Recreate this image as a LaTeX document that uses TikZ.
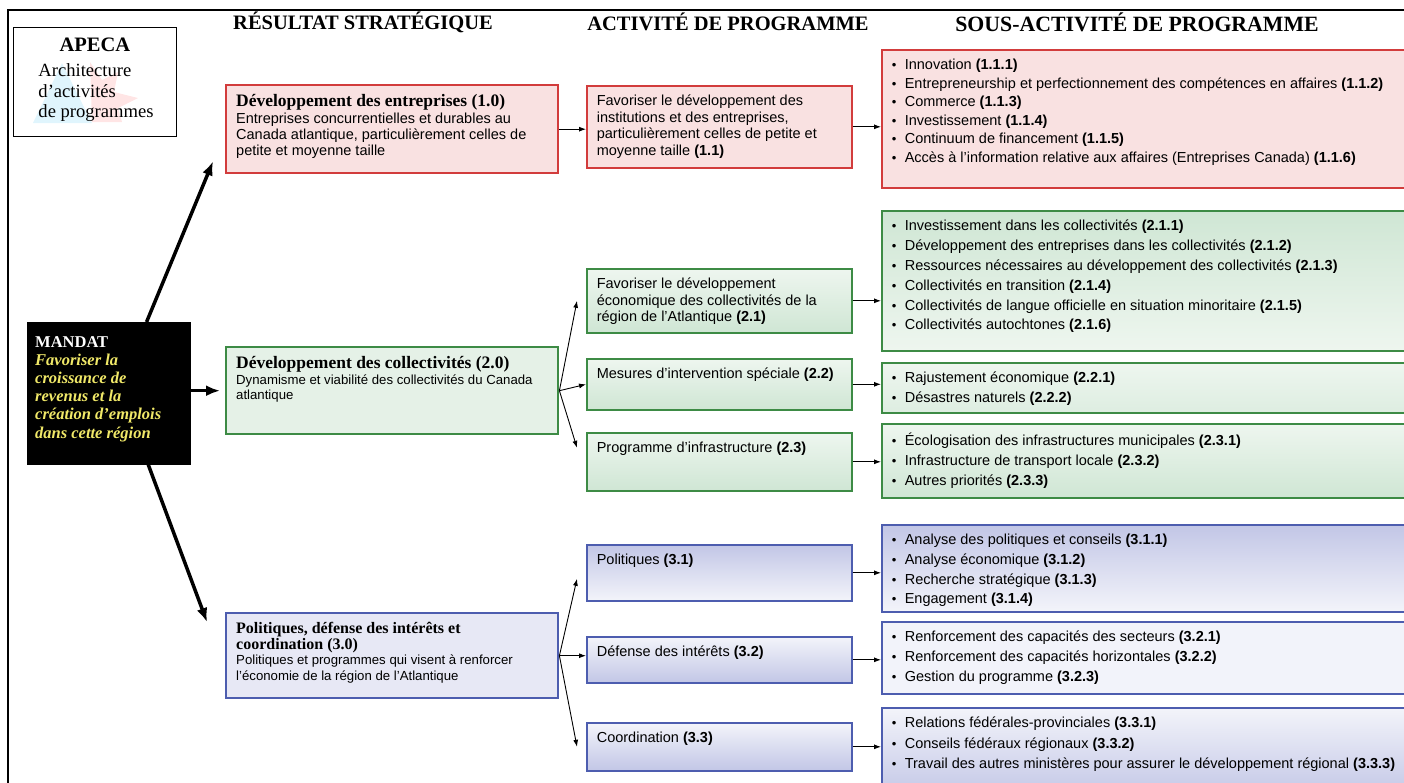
\documentclass[tikz,border=0pt]{standalone}
\usepackage{fontspec}
\setmainfont{Liberation Serif}
\setsansfont{Liberation Sans}
\usetikzlibrary{arrows.meta}

\definecolor{rouge}{HTML}{D23C3C}
\definecolor{rose}{HTML}{F9E1E1}
\definecolor{vert}{HTML}{3D8B45}
\definecolor{vertA}{HTML}{CFE6D4}
\definecolor{vertB}{HTML}{EEF6EF}
\definecolor{bleu}{HTML}{4D5DAF}
\definecolor{bleuA}{HTML}{C2C6E6}
\definecolor{bleuB}{HTML}{F3F4FA}
\definecolor{jaune}{HTML}{F0E868}

% boite de taille fixe, texte en haut a gauche
\newcommand{\cadre}[3]{\parbox[c][\dimexpr#2pt-14pt\relax][t]{\dimexpr#1pt-20pt\relax}{\vspace*{2.5pt}\raggedright #3}}
\newcommand{\puce}{\makebox[13pt][l]{\scalebox{0.9}{\textbullet}}}
\newcommand{\titreR}[1]{{\rmfamily\bfseries\fontsize{17.5}{18}\selectfont #1}}

\tikzset{
  boite/.style={draw, anchor=north west, inner xsep=10pt, inner ysep=7pt},
  resultat/.style={boite, line width=2.4pt, font=\sffamily\fontsize{14.5}{16.2}\selectfont},
  activite/.style={boite, line width=1.6pt, font=\sffamily\fontsize{14.5}{16.5}\selectfont},
  sousact/.style={boite, line width=1.6pt, font=\sffamily\fontsize{14.5}{18.5}\selectfont},
  fleche/.style={-{Latex[length=7pt,width=5pt]}, line width=0.9pt},
  grosse/.style={-{Latex[length=14pt,width=11pt]}, line width=3.5pt},
  entete/.style={font=\rmfamily\bfseries\fontsize{20.5}{22}\selectfont}
}

\begin{document}
\begin{tikzpicture}[x=1pt,y=-1pt]
\useasboundingbox (0,0) rectangle (1404,782);
\clip (0,0) rectangle (1404,782);
\draw[line width=1.3pt] (8,790) -- (8,10) -- (1410,10);

% en-tetes
\node[entete] (h1) at (363,22) {RÉSULTAT STRATÉGIQUE};
\node[entete] (h2) at (728,22) {ACTIVITÉ DE PROGRAMME};
\node[entete, font=\rmfamily\bfseries\fontsize{21.8}{22}\selectfont] (h3) at (1137,22) {SOUS-ACTIVITÉ DE PROGRAMME};

% logo APECA
\fill[cyan!12] (33,123) -- (62,63) -- (92,123) -- cycle;
\fill[red!10] (90,62) -- (102,80) -- (118,72) -- (114,92) -- (138,98) -- (118,108) -- (122,122) -- (92,122) -- cycle;
\node[draw, line width=0.9pt, anchor=north west, inner sep=0pt] (apeca) at (13,27)
  {\parbox[c][109pt][t]{163pt}{\vspace*{10pt}\centering{\rmfamily\bfseries\fontsize{20.5}{21}\selectfont APECA}\par\vspace*{5pt}
   \raggedright\leftskip=25pt\rmfamily\fontsize{18.6}{20.5}\selectfont Architecture\\ d’activités\\ de programmes}};

% mandat
\node[boite, fill=black, text=jaune, inner xsep=8pt] (mandat) at (27,322)
  {\parbox[c][128pt][t]{147pt}{\vspace*{7pt}\rmfamily\bfseries\fontsize{16.5}{18.2}\selectfont
   {\color{white}MANDAT}\\ \itshape Favoriser la\\ croissance de\\ revenus et la\\ création d’emplois\\ dans cette région}};

% resultats strategiques
\node[resultat, draw=rouge, fill=rose] (r10) at (225,84) {\cadre{332}{88}{\titreR{Développement des entreprises (1.0)}\\
  Entreprises concurrentielles et durables au\\ Canada atlantique, particulièrement celles de\\ petite et moyenne taille}};
\node[resultat, draw=vert, fill=vertA!55, font=\sffamily\fontsize{13.2}{15.5}\selectfont] (r20) at (225,346) {\cadre{332}{87}{\titreR{Développement des collectivités (2.0)}\\
  Dynamisme et viabilité des collectivités du Canada\\ atlantique}};
\node[resultat, draw=bleu, fill=bleuA!40, font=\sffamily\fontsize{13.2}{15.5}\selectfont] (r30) at (225,612) {\cadre{332}{85}{{\rmfamily\bfseries\fontsize{16}{16.5}\selectfont Politiques, défense des intérêts et\\ coordination (3.0)}\\
  Politiques et programmes qui visent à renforcer\\ l’économie de la région de l’Atlantique}};

% activites de programme
\node[activite, draw=rouge, fill=rose] (a11) at (586,85) {\cadre{265}{82}{Favoriser le développement des\\ institutions et des entreprises,\\ particulièrement celles de petite et\\ moyenne taille \textbf{(1.1)}}};
\node[activite, draw=vert, top color=vertB, bottom color=vertA] (a21) at (586,268) {\cadre{265}{64}{Favoriser le développement\\ économique des collectivités de la\\ région de l’Atlantique \textbf{(2.1)}}};
\node[activite, draw=vert, top color=vertB, bottom color=vertA] (a22) at (586,358) {\cadre{265}{51}{Mesures d’intervention spéciale \textbf{(2.2)}}};
\node[activite, draw=vert, top color=vertB, bottom color=vertA] (a23) at (586,432) {\cadre{265}{58}{Programme d’infrastructure \textbf{(2.3)}}};
\node[activite, draw=bleu, top color=bleuA, bottom color=bleuB] (a31) at (586,544) {\cadre{265}{56}{Politiques \textbf{(3.1)}}};
\node[activite, draw=bleu, top color=bleuB, bottom color=bleuA] (a32) at (586,636) {\cadre{265}{46}{Défense des intérêts \textbf{(3.2)}}};
\node[activite, draw=bleu, top color=bleuB, bottom color=bleuA] (a33) at (586,722) {\cadre{265}{48}{Coordination \textbf{(3.3)}}};

% sous-activites
\node[sousact, draw=rouge, fill=rose] (s11) at (881,49) {\cadre{530}{138}{%
  \puce Innovation \textbf{(1.1.1)}\\
  \puce Entrepreneurship et perfectionnement des compétences en affaires \textbf{(1.1.2)}\\
  \puce Commerce \textbf{(1.1.3)}\\
  \puce Investissement \textbf{(1.1.4)}\\
  \puce Continuum de financement \textbf{(1.1.5)}\\
  \puce Accès à l’information relative aux affaires (Entreprises Canada) \textbf{(1.1.6)}}};
\node[sousact, draw=vert, top color=vertA, bottom color=vertB, font=\sffamily\fontsize{14.5}{19.8}\selectfont] (s21) at (881,210) {\cadre{530}{140}{%
  \puce Investissement dans les collectivités \textbf{(2.1.1)}\\
  \puce Développement des entreprises dans les collectivités \textbf{(2.1.2)}\\
  \puce Ressources nécessaires au développement des collectivités \textbf{(2.1.3)}\\
  \puce Collectivités en transition \textbf{(2.1.4)}\\
  \puce Collectivités de langue officielle en situation minoritaire \textbf{(2.1.5)}\\
  \puce Collectivités autochtones \textbf{(2.1.6)}}};
\node[sousact, draw=vert, top color=vertB, bottom color=vertA!70, font=\sffamily\fontsize{14.5}{19.8}\selectfont] (s22) at (881,362) {\cadre{530}{50}{%
  \puce Rajustement économique \textbf{(2.2.1)}\\
  \puce Désastres naturels \textbf{(2.2.2)}}};
\node[sousact, draw=vert, top color=vertB, bottom color=vertA, font=\sffamily\fontsize{14.5}{19.8}\selectfont] (s23) at (881,423) {\cadre{530}{74}{%
  \puce Écologisation des infrastructures municipales \textbf{(2.3.1)}\\
  \puce Infrastructure de transport locale \textbf{(2.3.2)}\\
  \puce Autres priorités \textbf{(2.3.3)}}};
\node[sousact, draw=bleu, top color=bleuA, bottom color=bleuB, font=\sffamily\fontsize{14.5}{19.6}\selectfont] (s31) at (881,524) {\cadre{530}{87}{%
  \puce Analyse des politiques et conseils \textbf{(3.1.1)}\\
  \puce Analyse économique \textbf{(3.1.2)}\\
  \puce Recherche stratégique \textbf{(3.1.3)}\\
  \puce Engagement \textbf{(3.1.4)}}};
\node[sousact, draw=bleu, fill=bleuB!60!bleuA!40, font=\sffamily\fontsize{14.5}{20}\selectfont] (s32) at (881,621) {\cadre{530}{72}{%
  \puce Renforcement des capacités des secteurs \textbf{(3.2.1)}\\
  \puce Renforcement des capacités horizontales \textbf{(3.2.2)}\\
  \puce Gestion du programme \textbf{(3.2.3)}}};
\node[sousact, draw=bleu, top color=bleuB, bottom color=bleuA, font=\sffamily\fontsize{14.5}{20.5}\selectfont] (s33) at (881,707) {\cadre{530}{90}{%
  \puce Relations fédérales-provinciales \textbf{(3.3.1)}\\
  \puce Conseils fédéraux régionaux \textbf{(3.3.2)}\\
  \puce Travail des autres ministères pour assurer le développement régional \textbf{(3.3.3)}}};

% fleches du mandat
\draw[grosse] (mandat.62) -- ([xshift=-12pt,yshift=13pt]r10.south west);
\draw[grosse, shorten >=5pt] (mandat.east |- r20.west) -- (r20.west);
\draw[grosse] (mandat.-61) -- ([xshift=-18pt,yshift=-10pt]r30.north west);

% resultat -> activites
\draw[fleche] (r10.east) -- (r10.east -| a11.west);
\draw[fleche] (r20.east) -- ([xshift=-9pt]a21.west);
\draw[fleche] (r20.east) -- (a22.west);
\draw[fleche] (r20.east) -- ([xshift=-9pt,yshift=14pt]a23.west);
\draw[fleche] (r30.east) -- ([xshift=-9pt,yshift=-6pt]a31.west);
\draw[fleche] (r30.east) -- (r30.east -| a32.west);
\draw[fleche] (r30.east) -- ([xshift=-9pt]a33.west);

% activites -> sous-activites
\foreach \a/\s in {a11/s11, a21/s21, a22/s22, a23/s23, a31/s31, a32/s32, a33/s33}
  \draw[fleche] (\a.east) -- (\a.east -| \s.west);
\end{tikzpicture}
\end{document}
